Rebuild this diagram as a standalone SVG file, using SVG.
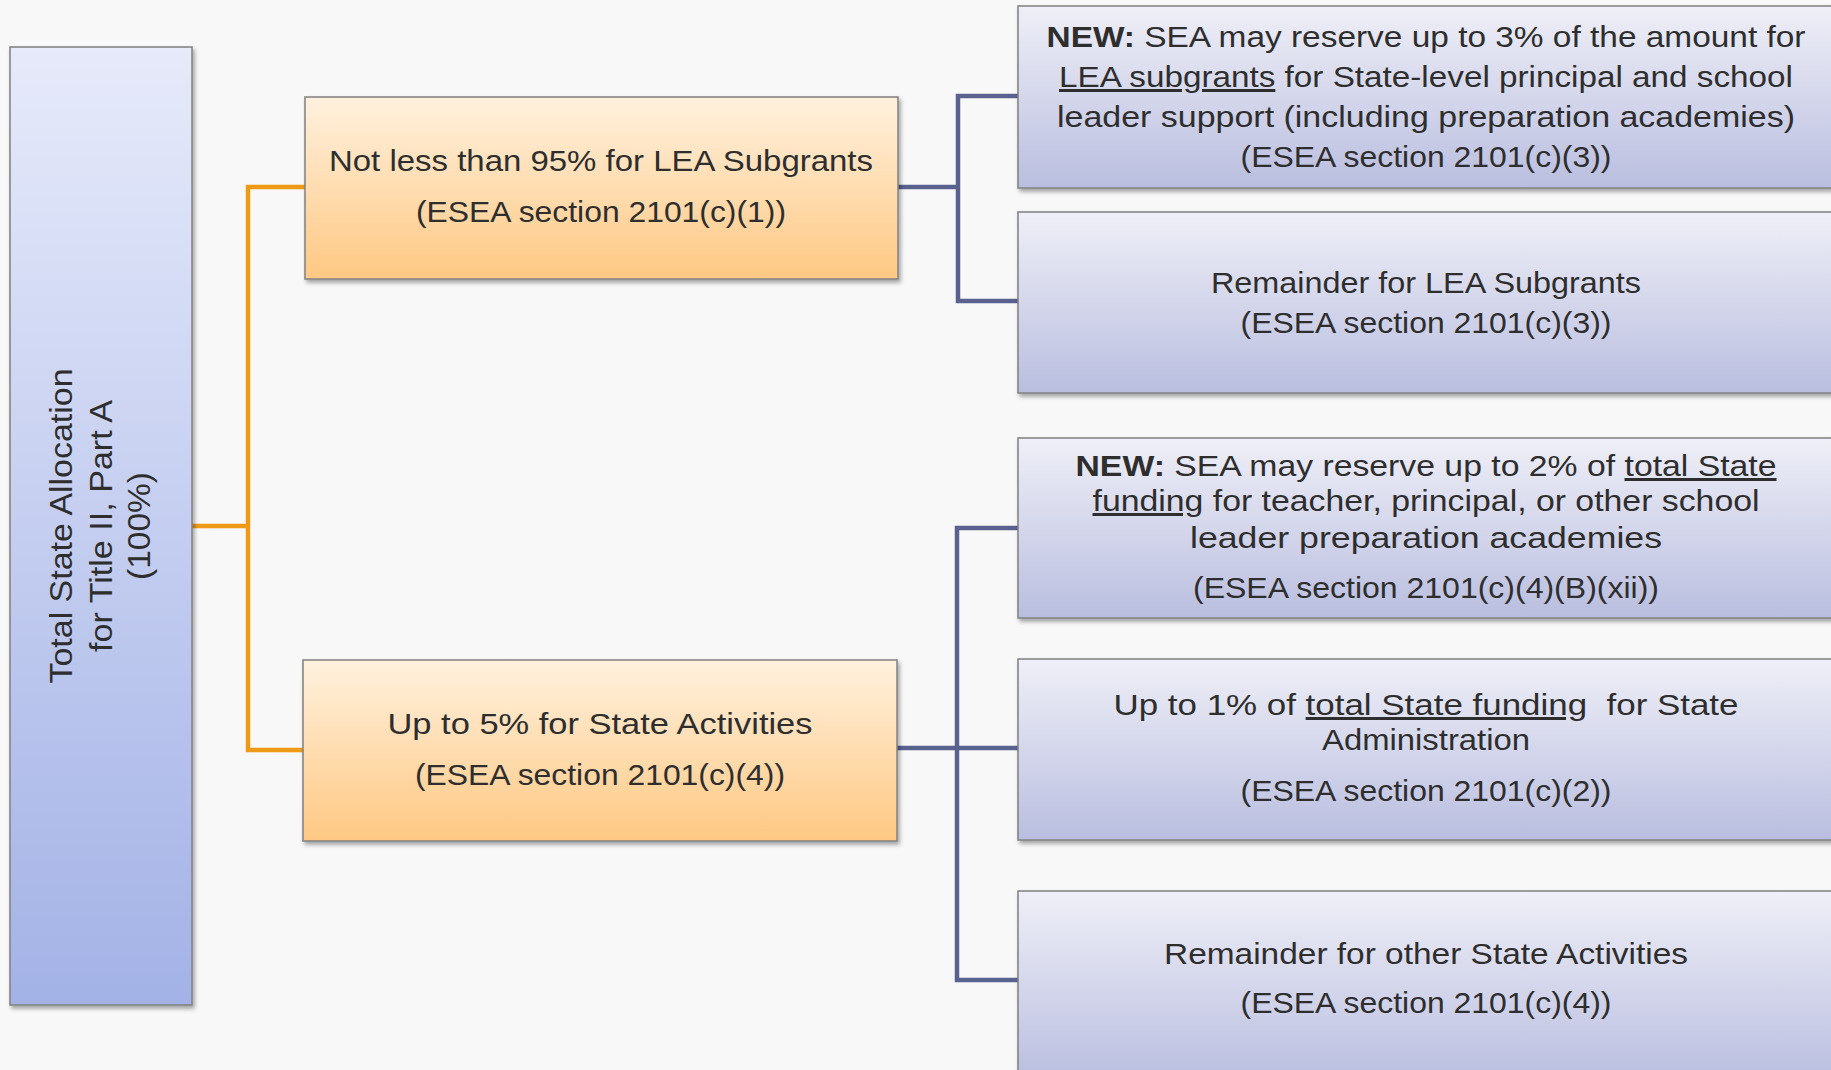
<svg xmlns="http://www.w3.org/2000/svg" width="1831" height="1070" viewBox="0 0 1831 1070">
<defs>
<linearGradient id="gOrange" x1="0" y1="0" x2="0" y2="1">
<stop offset="0" stop-color="#FFF1DE"/>
<stop offset="1" stop-color="#FEC883"/>
</linearGradient>
<linearGradient id="gBlue" x1="0" y1="0" x2="0" y2="1">
<stop offset="0" stop-color="#EFEFF7"/>
<stop offset="1" stop-color="#B9BEDF"/>
</linearGradient>
<linearGradient id="gLeft" x1="0" y1="0" x2="0" y2="1">
<stop offset="0" stop-color="#E6EAFA"/>
<stop offset="1" stop-color="#A3B2E6"/>
</linearGradient>
<filter id="shadow" x="-5%" y="-5%" width="112%" height="115%">
<feDropShadow dx="2" dy="3" stdDeviation="2" flood-color="#000" flood-opacity="0.35"/>
</filter>
</defs>
<style>
.box{stroke:#808080;stroke-width:1.5;filter:url(#shadow)}
.or{fill:url(#gOrange)}
.bl{fill:url(#gBlue)}
.lf{fill:url(#gLeft)}
.t{font-family:"Liberation Sans",Arial,sans-serif;font-size:30px;fill:#2E2E2E;text-anchor:middle}
.lt{font-family:"Liberation Sans",Arial,sans-serif;font-size:32px;fill:#2E2E2E;text-anchor:middle}
.b{font-weight:bold}
.u{text-decoration:underline}
.co{fill:none;stroke:#EF9A17;stroke-width:4.5;stroke-linejoin:miter}
.cb{fill:none;stroke:#59628F;stroke-width:4.5;stroke-linejoin:miter}
</style>
<rect x="0" y="0" width="1831" height="1070" fill="#F8F8F8"/>

<g id="connectors">
<path class="co" d="M192,526 H248 M305,187 H248 V750 H303"/>
<path class="cb" d="M898,187 H958 M1018,96 H958 V301 H1018"/>
<path class="cb" d="M897,748 H1018 M1018,528 H957 V980 H1018"/>
</g>

<g id="node-total">
<rect class="box lf" x="10" y="47" width="182" height="958"/>
<g transform="translate(0,526) rotate(-90)">
<text class="lt" x="0" y="72" textLength="315" lengthAdjust="spacingAndGlyphs">Total State Allocation</text>
<text class="lt" x="0" y="112" textLength="252" lengthAdjust="spacingAndGlyphs">for Title II, Part A</text>
<text class="lt" x="0" y="150" textLength="108" lengthAdjust="spacingAndGlyphs">(100%)</text>
</g>
</g>

<g id="node-lea95">
<rect class="box or" x="305" y="97" width="593" height="182"/>
<text class="t" x="601" y="171" textLength="544" lengthAdjust="spacingAndGlyphs">Not less than 95% for LEA Subgrants</text>
<text class="t" x="601" y="222" textLength="370" lengthAdjust="spacingAndGlyphs">(ESEA section 2101(c)(1))</text>
</g>

<g id="node-state5">
<rect class="box or" x="303" y="660" width="594" height="181"/>
<text class="t" x="600" y="734" textLength="425" lengthAdjust="spacingAndGlyphs">Up to 5% for State Activities</text>
<text class="t" x="600" y="785" textLength="370" lengthAdjust="spacingAndGlyphs">(ESEA section 2101(c)(4))</text>
</g>

<g id="node-new3">
<rect class="box bl" x="1018" y="6" width="830" height="182"/>
<text class="t" x="1426" y="47" textLength="759" lengthAdjust="spacingAndGlyphs"><tspan class="b">NEW:</tspan> SEA may reserve up to 3% of the amount for</text>
<text class="t" x="1426" y="87" textLength="734" lengthAdjust="spacingAndGlyphs"><tspan class="u">LEA subgrants</tspan> for State-level principal and school</text>
<text class="t" x="1426" y="127" textLength="738" lengthAdjust="spacingAndGlyphs">leader support (including preparation academies)</text>
<text class="t" x="1426" y="167" textLength="371" lengthAdjust="spacingAndGlyphs">(ESEA section 2101(c)(3))</text>
</g>

<g id="node-remainder-lea">
<rect class="box bl" x="1018" y="212" width="830" height="181"/>
<text class="t" x="1426" y="293" textLength="430" lengthAdjust="spacingAndGlyphs">Remainder for LEA Subgrants</text>
<text class="t" x="1426" y="333" textLength="371" lengthAdjust="spacingAndGlyphs">(ESEA section 2101(c)(3))</text>
</g>

<g id="node-new2">
<rect class="box bl" x="1018" y="438" width="830" height="180"/>
<text class="t" x="1426" y="476" textLength="701" lengthAdjust="spacingAndGlyphs"><tspan class="b">NEW:</tspan> SEA may reserve up to 2% of <tspan class="u">total State</tspan></text>
<text class="t" x="1426" y="511" textLength="667" lengthAdjust="spacingAndGlyphs"><tspan class="u">funding</tspan> for teacher, principal, or other school</text>
<text class="t" x="1426" y="548" textLength="472" lengthAdjust="spacingAndGlyphs">leader preparation academies</text>
<text class="t" x="1426" y="598" textLength="466" lengthAdjust="spacingAndGlyphs">(ESEA section 2101(c)(4)(B)(xii))</text>
</g>

<g id="node-admin1">
<rect class="box bl" x="1018" y="659" width="830" height="181"/>
<text class="t" x="1426" y="715" textLength="625" lengthAdjust="spacingAndGlyphs" xml:space="preserve">Up to 1% of <tspan class="u">total State funding</tspan>  for State</text>
<text class="t" x="1426" y="750" textLength="208" lengthAdjust="spacingAndGlyphs">Administration</text>
<text class="t" x="1426" y="801" textLength="371" lengthAdjust="spacingAndGlyphs">(ESEA section 2101(c)(2))</text>
</g>

<g id="node-remainder-state">
<rect class="box bl" x="1018" y="891" width="830" height="190"/>
<text class="t" x="1426" y="964" textLength="524" lengthAdjust="spacingAndGlyphs">Remainder for other State Activities</text>
<text class="t" x="1426" y="1013" textLength="371" lengthAdjust="spacingAndGlyphs">(ESEA section 2101(c)(4))</text>
</g>
</svg>
